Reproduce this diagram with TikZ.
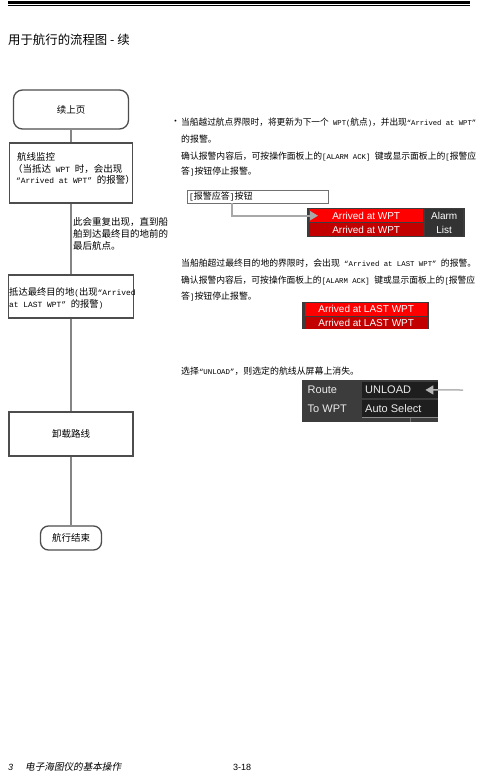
\documentclass[tikz,border=0pt]{standalone}
\usepackage{fontspec}
\usepackage{graphicx}
\setmainfont{Noto Sans CJK SC}
\newfontfamily\cjkitfnt{Noto Sans CJK SC}[FakeSlant=0.2]
\newfontfamily\monofnt{Liberation Mono}
\newfontfamily\arialfnt{Liberation Sans}
\usetikzlibrary{arrows.meta}
\newcommand{\lm}[1]{{\monofnt\fontsize{7.4}{8}\selectfont #1}}
\newcommand{\lmL}[1]{{\monofnt\fontsize{7.9}{8}\selectfont #1}}
\newcommand{\fitw}[2]{\resizebox{#1}{\height}{#2}}
\definecolor{boxc}{HTML}{4D4D4D}
\definecolor{linec}{HTML}{858585}
\definecolor{redA}{HTML}{FF0000}
\definecolor{redB}{HTML}{C20000}
\definecolor{panelc}{HTML}{3C3C3C}
\definecolor{cellk}{HTML}{1E1E1E}
\definecolor{arrg}{HTML}{A8A8A8}
\definecolor{ackc}{HTML}{707070}
\begin{document}
\begin{tikzpicture}[x=1pt,y=-1pt,
  flowbox/.style={draw=boxc, line width=1.3pt, fill=white, inner sep=0pt,
    font=\fontsize{9.5}{10}\selectfont},
  flowline/.style={draw=linec, line width=1.3pt},
  lefttxt/.style={anchor=west, inner sep=0pt, font=\fontsize{9.5}{10}\selectfont},
  bodytxt/.style={anchor=west, inner sep=0pt, font=\fontsize{8.9}{10}\selectfont},
  bar/.style={anchor=north west, inner sep=0pt, text=white,
    font=\arialfnt\fontsize{10}{10}\selectfont},
  paneltxt/.style={anchor=west, inner sep=0pt, text=white!92!black,
    font=\arialfnt\fontsize{11}{11}\selectfont},
  grayarrow/.style={draw=arrg, line width=1.8pt, -{Triangle[length=8pt,width=9pt]}}
]
\fill[white] (0,0) rectangle (483,776);
\useasboundingbox (0,0) rectangle (483,776);

% header rules
\draw[line width=3pt] (8,2.6) -- (470,2.6);
\draw[line width=0.8pt] (8,5.8) -- (470,5.8);
\node[anchor=west, inner sep=0pt, font=\fontsize{12.4}{13}\selectfont] (title) at (8,40) {用于航行的流程图 - 续};

% flowchart
\node[flowbox, rounded corners=9pt, minimum width=115pt, minimum height=39pt] (start) at (71,109.5) {续上页};
\node[flowbox, minimum width=123pt, minimum height=60pt] (monitor) at (71,173) {};
\node[flowbox, minimum width=125pt, minimum height=43pt] (lastwpt) at (71,296.5) {};
\node[flowbox, minimum width=124pt, minimum height=44pt] (unloadbox) at (71,434) {卸载路线};
\node[flowbox, rounded corners=8pt, minimum width=61pt, minimum height=24pt] (endbox) at (71,538) {航行结束};

\draw[flowline] (start) -- (monitor);
\draw[flowline] (monitor) -- (lastwpt);
\draw[flowline] (lastwpt) -- (unloadbox);
\draw[flowline] (unloadbox) -- (endbox);

\node[lefttxt] (m1) at (17,157) {航线监控};
\node[lefttxt] (m2) at (13,168.5) {（当抵达\lmL{ WPT }时，会出现};
\node[lefttxt] (m3) at (16,180) {\lmL{“Arrived at WPT” }的报警）};

\node[lefttxt] (r1) at (73,222) {此会重复出现，直到船};
\node[lefttxt] (r2) at (73,234) {舶到达最终目的地前的};
\node[lefttxt] (r3) at (73,246) {最后航点。};

\node[lefttxt, font=\fontsize{9.3}{10}\selectfont] (l1) at (9,292) {抵达最终目的地\lmL{(}出现\lmL{“Arrived}};
\node[lefttxt, font=\fontsize{9.3}{10}\selectfont] (l2) at (9,304) {\lmL{at LAST WPT” }的报警\lmL{)}};

% right column, paragraph 1
\node[bodytxt] (bullet) at (171,122) {•};
\node[bodytxt] (p1a) at (181,122) {\fitw{295pt}{当船越过航点界限时，将更新为下一个\lm{ WPT(}航点\lm{)}，并出现\lm{“Arrived at WPT”}}};
\node[bodytxt] (p1b) at (181,139) {的报警。};
\node[bodytxt] (p1c) at (181,156) {\fitw{295pt}{确认报警内容后，可按操作面板上的\lm{[ALARM ACK] }键或显示面板上的\lm{[}报警应}};
\node[bodytxt] (p1d) at (181,172) {答\lm{]}按钮停止报警。};

\node[draw=ackc, line width=0.6pt, minimum width=141pt, minimum height=13pt, inner sep=0pt, anchor=north west] (ackbox) at (187,190) {};
\node[anchor=west, inner sep=0pt, font=\fontsize{9}{10}\selectfont] (acktxt) at (189,196.5) {\lmL{[}报警应答\lmL{]}按钮};

% alarm panel 1
\node[fill=panelc, minimum width=158pt, minimum height=29pt, inner sep=0pt, anchor=north west] (alarmpanel) at (307,208) {};
\node[bar, fill=redA, minimum width=114pt, minimum height=12.6pt] (redtop) at (309,209.2) {Arrived at WPT};
\node[bar, fill=redB, minimum width=114pt, minimum height=12.6pt] (redbot) at (309,223) {Arrived at WPT};
\node[fill=panelc!85!black, minimum width=38pt, minimum height=27pt, inner sep=0pt, anchor=north west,
  text=white, align=center, font=\arialfnt\fontsize{10}{13.5}\selectfont] (alarmlist) at (425,209) {Alarm\\List};

\coordinate (ackfoot) at (232,203.3);
\draw[grayarrow] (ackfoot) |- ([xshift=9pt]redtop.west);

% paragraph 2
\node[bodytxt] (p2a) at (181,263) {\fitw{295pt}{当船舶超过最终目的地的界限时，会出现\lm{ “Arrived at LAST WPT” }的报警。}};
\node[bodytxt] (p2b) at (181,280) {\fitw{294pt}{确认报警内容后，可按操作面板上的\lm{[ALARM ACK] }键或显示面板上的\lm{[}报警应}};
\node[bodytxt] (p2c) at (181,297) {答\lm{]}按钮停止报警。};

% alarm panel 2
\node[fill=panelc, minimum width=127pt, minimum height=27pt, inner sep=0pt, anchor=north west] (lastpanel) at (302,302) {};
\node[bar, fill=redA, minimum width=122pt, minimum height=12.4pt] (redtop2) at (305,303) {Arrived at LAST WPT};
\node[bar, fill=redB, minimum width=122pt, minimum height=12pt] (redbot2) at (305,316.4) {Arrived at LAST WPT};

% paragraph 3
\node[bodytxt] (p3) at (181,371) {选择\lm{“UNLOAD”}，则选定的航线从屏幕上消失。};

% route panel
\node[fill=panelc, minimum width=136pt, minimum height=42pt, inner sep=0pt, anchor=north west] (wptpanel) at (302,380) {};
\node[fill=cellk, minimum width=76pt, minimum height=16.5pt, inner sep=0pt, anchor=north west] (unloadcell) at (362,381.5) {};
\node[fill=cellk, minimum width=76pt, minimum height=17pt, inner sep=0pt, anchor=north west] (autocell) at (362,400) {};
\draw[white!55!black, line width=0.5pt] (autocell.south west) -- (autocell.south east);
\draw[white!45!black, line width=0.6pt] (410,417.5) -- (410,422);
\node[paneltxt] (routetxt) at (307.5,390) {Route};
\node[paneltxt] (towpttxt) at (307.5,409) {To WPT};
\node[paneltxt] (unloadtxt) at (365,390) {UNLOAD};
\node[paneltxt] (autotxt) at (365,409) {Auto Select};
\coordinate (uarrow) at (463,390);
\draw[grayarrow, line width=1.5pt, draw=arrg!85!white] (uarrow) -- ([xshift=-13pt]unloadcell.east);

% footer
\node[anchor=west, inner sep=0pt, font=\arialfnt\itshape\fontsize{9}{10}\selectfont] (fnum) at (8,767) {3};
\node[anchor=west, inner sep=0pt, font=\cjkitfnt\fontsize{9.6}{10}\selectfont] (ftitle) at (25,767) {电子海图仪的基本操作};
\node[anchor=west, inner sep=0pt, font=\arialfnt\fontsize{9}{10}\selectfont] (fpage) at (233,767) {3-18};
\end{tikzpicture}
\end{document}
